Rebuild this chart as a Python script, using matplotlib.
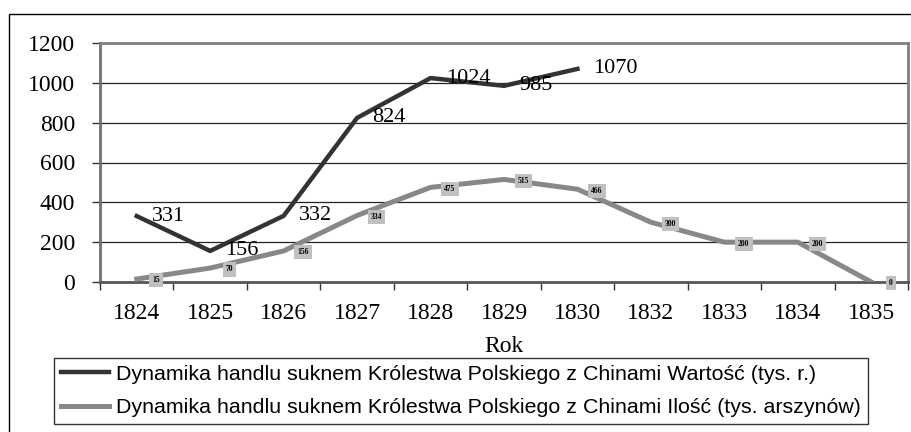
import numpy as np
import matplotlib
matplotlib.use('Agg')
import matplotlib.pyplot as plt
from matplotlib.patches import Rectangle

# dane
lata = ['1824', '1825', '1826', '1827', '1828', '1829', '1830', '1832', '1833', '1834', '1835']
wartosc = [331, 156, 332, 824, 1024, 985, 1070, np.nan, np.nan, np.nan, np.nan]
ilosc = [15, 70, 156, 334, 475, 515, 466, 300, 200, 200, 0]
nazwa_wartosc = 'Dynamika handlu suknem Królestwa Polskiego z Chinami Wartość (tys. r.)'
nazwa_ilosc = 'Dynamika handlu suknem Królestwa Polskiego z Chinami Ilość (tys. arszynów)'
y_ticks = [0, 200, 400, 600, 800, 1000, 1200]

W, H = 911, 432
fig = plt.figure(figsize=(W / 100, H / 100), dpi=100)

# ramka wokol calego wykresu
fig.patches.append(Rectangle((9 / W, -0.05), 1.05, 1 - 14 / H + 0.05, transform=fig.transFigure,
                             fill=False, edgecolor='black', linewidth=1, clip_on=False))

ax = fig.add_axes([100 / W, (H - 282) / H, 808 / W, (282 - 43) / H])
x = np.arange(len(lata))

ax.plot(x, wartosc, color='#333333', linewidth=3.2, label=nazwa_wartosc, zorder=3)
ax.plot(x, ilosc, color='#888888', linewidth=3.6, label=nazwa_ilosc, zorder=3)

serif = 'Liberation Serif'
for xi, v in zip(x, wartosc):
    if np.isnan(v):
        continue
    ax.annotate(str(int(v)), (xi, v), xytext=(11, 0), textcoords='offset points',
                ha='left', va='center', fontsize=16, family=serif, zorder=5)
for xi, v in zip(x, ilosc):
    ax.annotate(str(int(v)), (xi, v), xytext=(14, -1), textcoords='offset points',
                ha='center', va='center', fontsize=5.5, fontweight='bold', family=serif, zorder=5,
                bbox=dict(boxstyle='square,pad=0.4', facecolor='#c0c0c0', edgecolor='none'))

ax.set_xlim(-0.5, len(lata) - 0.5)
ax.set_ylim(0, 1200)
ax.set_yticks(y_ticks)
ax.set_yticklabels([str(t) for t in y_ticks], family=serif, fontsize=17)
ax.set_xticks(x)
ax.set_xticklabels(lata, family=serif, fontsize=17)
ax.set_xticks(np.arange(len(lata) + 1) - 0.5, minor=True)
ax.tick_params(axis='x', which='major', length=0, pad=15)
ax.tick_params(axis='x', which='minor', length=6, width=1, color='#333333')
ax.tick_params(axis='y', length=6, width=1, color='#333333', pad=12)
ax.set_xlabel('Rok', family=serif, fontsize=17, labelpad=9)

for g in y_ticks[1:-1]:
    ax.axhline(g, color='#222222', linewidth=0.9, zorder=1)

ax.spines['top'].set_color('#808080')
ax.spines['top'].set_linewidth(2)
ax.spines['right'].set_color('#808080')
ax.spines['right'].set_linewidth(2)
ax.spines['left'].set_color('#707070')
ax.spines['left'].set_linewidth(2)
ax.spines['bottom'].set_color('#555555')
ax.spines['bottom'].set_linewidth(2)

leg = fig.legend(loc='upper left', bbox_to_anchor=(54 / W, 1 - 358 / H),
                 prop={'family': 'Liberation Sans', 'size': 15.4}, frameon=True, fancybox=False,
                 handlelength=2.25, handletextpad=0.33, borderpad=0.32, labelspacing=0.68,
                 borderaxespad=0)
leg.get_frame().set_edgecolor('black')
leg.get_frame().set_linewidth(1)

plt.savefig('out.png', dpi=100)
plt.close()
